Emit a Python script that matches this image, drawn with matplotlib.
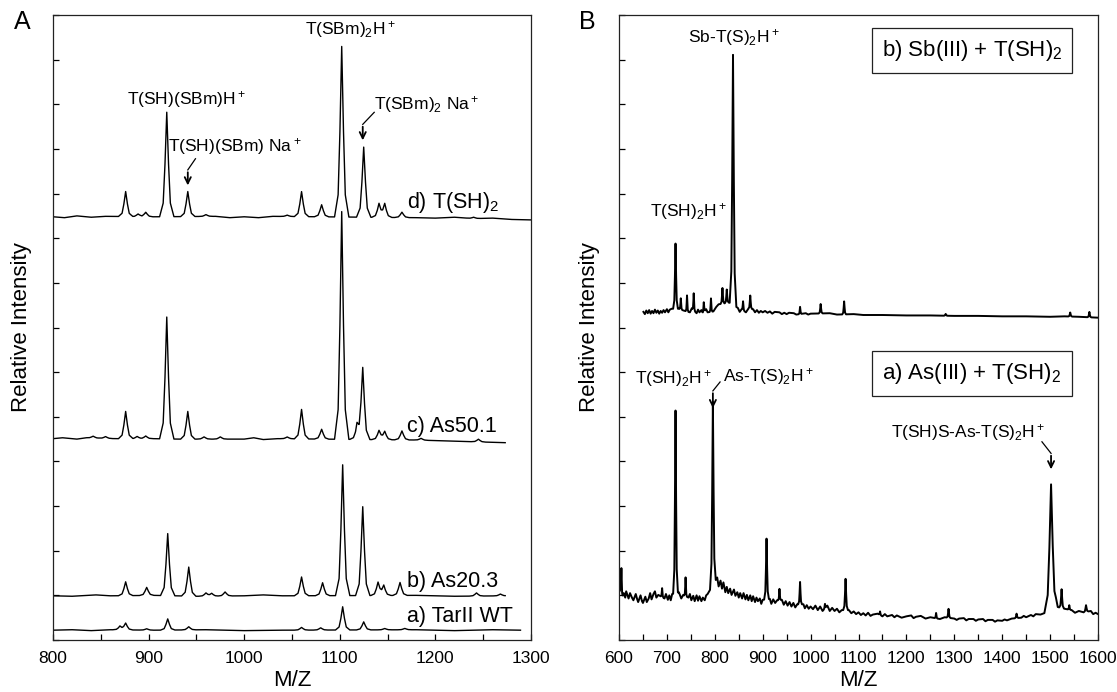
import numpy as np
import matplotlib
matplotlib.use("Agg")
from matplotlib import pyplot as plt
from matplotlib.ticker import MultipleLocator, NullFormatter

plt.rcParams['font.family'] = ['Liberation Sans', 'DejaVu Sans']
plt.rcParams['mathtext.default'] = 'regular'

# ---------------- panel A data (relative intensity above each trace baseline)
# peaks: m/z, height
peaks_a_wt = [(870, 0.08), (876, 0.15), (898, 0.03), (920, 0.25), (942, 0.07),
              (1060, 0.06), (1080, 0.05), (1103, 0.52), (1125, 0.18), (1147, 0.03), (1168, 0.03)]
peaks_b_as20 = [(876, 0.31), (898, 0.18), (920, 1.39), (942, 0.65), (960, 0.07), (966, 0.06),
                (980, 0.09), (1060, 0.42), (1082, 0.29), (1103, 2.93), (1124, 1.99), (1140, 0.29),
                (1146, 0.22), (1163, 0.29), (1243, 0.07), (1268, 0.04)]
peaks_c_as50 = [(842, 0.04), (855, 0.04), (876, 0.61), (888, 0.05), (897, 0.06), (919, 2.73),
                (941, 0.62), (958, 0.05), (975, 0.05), (1045, 0.04), (1060, 0.66), (1081, 0.22),
                (1102, 5.1), (1118, 0.3), (1124, 1.6), (1141, 0.2), (1147, 0.18), (1165, 0.2),
                (1185, 0.04), (1245, 0.06)]
peaks_d_tsh2 = [(876, 0.56), (889, 0.06), (897, 0.1), (919, 2.34), (941, 0.56), (960, 0.04),
                (1045, 0.03), (1060, 0.56), (1081, 0.27), (1102, 3.82), (1125, 1.57), (1141, 0.3),
                (1147, 0.3), (1165, 0.12), (1240, 0.03)]

# baseline knots (m/z, level)
base_a_wt = [(800, 0.0), (820, 0.01), (840, -0.01), (860, 0.01), (905, 0.0), (960, 0.01),
             (1000, -0.01), (1040, 0.0), (1180, 0.01), (1220, -0.01), (1260, 0.01), (1289, 0.0)]
base_b_as20 = [(800, 0.0), (820, -0.01), (845, 0.02), (860, 0.0), (905, 0.01), (950, -0.01),
               (1000, 0.0), (1020, 0.02), (1040, 0.0), (1180, 0.01), (1220, -0.01), (1273, 0.0)]
base_c_as50 = [(800, 0.0), (810, 0.02), (825, -0.01), (835, 0.02), (865, 0.0), (905, 0.0),
               (930, -0.01), (1000, -0.01), (1010, 0.02), (1020, -0.02), (1035, 0.0),
               (1180, -0.03), (1210, -0.05), (1273, -0.09)]
base_d_tsh2 = [(800, 0.0), (812, -0.02), (825, 0.02), (840, -0.01), (855, 0.01), (905, 0.0),
               (970, 0.01), (985, -0.02), (1000, 0.0), (1015, -0.02), (1030, 0.01), (1180, -0.02),
               (1200, -0.03), (1220, -0.01), (1240, -0.04), (1260, -0.03), (1280, -0.06), (1300, -0.07)]

labels_a = ["a) TarII WT", "b) As20.3", "c) As50.1", "d) T(SH)$_2$"]
offsets_a = [0.22, 0.99, 4.51, 9.48]
label_y_a = [0.52, 1.3, 4.78, 9.8]

# ---------------- panel B data
peaks_as3 = [(605, 0.56, 3), (690, 0.2, 3), (718, 4.09, 5), (739, 0.42, 3), (796, 4.1, 6),
             (908, 1.36, 5), (935, 0.25, 3), (978, 0.5, 4), (1030, 0.1, 3), (1073, 0.7, 5),
             (1145, 0.08, 3), (1262, 0.12, 3), (1288, 0.2, 4), (1430, 0.1, 4), (1502, 2.8, 14),
             (1524, 0.42, 5), (1540, 0.1, 3), (1575, 0.15, 5)]
base_as3 = [(600, 0.62), (603, 0.68), (607, 0.52), (610, 0.6), (613, 0.5), (615, 0.64), (620, 0.48),
            (623, 0.6), (627, 0.5), (630, 0.44), (635, 0.58), (638, 0.46), (640, 0.4), (645, 0.55),
            (648, 0.42), (650, 0.38), (655, 0.52), (658, 0.4), (662, 0.48), (665, 0.6), (668, 0.46),
            (672, 0.58), (675, 0.64), (678, 0.5), (682, 0.56), (695, 0.48), (698, 0.58), (702, 0.45),
            (705, 0.55), (708, 0.44), (711, 0.58), (725, 0.62), (730, 0.48), (734, 0.56), (745, 0.5),
            (748, 0.58), (751, 0.44), (755, 0.54), (758, 0.42), (762, 0.55), (765, 0.43), (768, 0.53),
            (772, 0.42), (775, 0.5), (779, 0.44), (782, 0.55), (785, 0.58), (805, 0.95), (808, 0.75),
            (812, 0.88), (815, 0.7), (818, 0.84), (822, 0.62), (825, 0.74), (828, 0.6), (832, 0.7),
            (835, 0.56), (840, 0.68), (843, 0.54), (847, 0.62), (850, 0.5), (853, 0.6), (857, 0.48),
            (860, 0.6), (864, 0.46), (867, 0.56), (870, 0.44), (874, 0.55), (877, 0.42), (880, 0.53),
            (884, 0.4), (887, 0.5), (890, 0.42), (894, 0.48), (897, 0.36), (900, 0.45), (915, 0.47),
            (918, 0.36), (922, 0.46), (926, 0.38), (930, 0.44), (940, 0.45), (944, 0.34), (948, 0.42),
            (952, 0.32), (956, 0.4), (960, 0.3), (964, 0.38), (968, 0.28), (972, 0.35), (985, 0.35),
            (988, 0.26), (992, 0.33), (996, 0.25), (1000, 0.3), (1005, 0.24), (1010, 0.32),
            (1015, 0.22), (1020, 0.3), (1025, 0.2), (1035, 0.32), (1040, 0.2), (1045, 0.27),
            (1050, 0.2), (1055, 0.25), (1060, 0.17), (1065, 0.22), (1080, 0.22), (1085, 0.15),
            (1090, 0.19), (1095, 0.13), (1100, 0.17), (1105, 0.11), (1110, 0.15), (1115, 0.1),
            (1120, 0.16), (1125, 0.09), (1130, 0.12), (1140, 0.14), (1150, 0.08), (1155, 0.13),
            (1160, 0.08), (1170, 0.11), (1175, 0.06), (1180, 0.1), (1190, 0.05), (1200, 0.08),
            (1210, 0.1), (1215, 0.04), (1220, 0.07), (1230, 0.09), (1240, 0.03), (1250, 0.06),
            (1270, 0.02), (1280, 0.06), (1300, 0.03), (1305, 0.0), (1310, 0.03), (1320, 0.04),
            (1325, -0.01), (1330, 0.02), (1340, 0.02), (1345, -0.02), (1350, 0.01), (1360, 0.02),
            (1365, -0.03), (1370, 0.0), (1380, 0.0), (1385, -0.04), (1390, -0.01), (1400, -0.02),
            (1405, 0.01), (1410, -0.01), (1420, 0.03), (1440, 0.05), (1445, 0.09), (1450, 0.06),
            (1460, 0.11), (1465, 0.08), (1470, 0.13), (1480, 0.12), (1490, 0.16), (1512, 0.3),
            (1530, 0.25), (1545, 0.22), (1552, 0.16), (1560, 0.2), (1570, 0.17), (1585, 0.2),
            (1590, 0.13), (1595, 0.16), (1600, 0.13)]

peaks_sb3 = [(718, 1.46, 5), (729, 0.25, 3), (742, 0.36, 3), (756, 0.38, 3), (777, 0.22, 3),
             (792, 0.3, 3), (816, 0.35, 4), (825, 0.3, 4), (838, 5.6, 7), (859, 0.2, 3),
             (874, 0.3, 4), (978, 0.16, 3), (1021, 0.21, 4), (1070, 0.29, 4), (1282, 0.04, 4),
             (1542, 0.09, 4), (1582, 0.12, 4)]
base_sb3 = [(651, 0.13), (654, 0.08), (657, 0.16), (660, 0.1), (663, 0.17), (666, 0.09), (669, 0.15),
            (672, 0.1), (675, 0.18), (678, 0.11), (681, 0.16), (684, 0.09), (687, 0.15), (690, 0.11),
            (693, 0.17), (696, 0.12), (700, 0.19), (703, 0.12), (706, 0.18), (710, 0.2), (725, 0.2),
            (735, 0.16), (748, 0.12), (752, 0.21), (762, 0.1), (765, 0.18), (768, 0.12), (772, 0.17),
            (775, 0.1), (782, 0.19), (785, 0.12), (797, 0.14), (803, 0.24), (808, 0.3), (830, 0.34),
            (848, 0.22), (852, 0.13), (856, 0.19), (865, 0.12), (870, 0.2), (880, 0.19), (884, 0.12),
            (888, 0.17), (892, 0.11), (896, 0.15), (900, 0.12), (905, 0.15), (910, 0.11), (915, 0.14),
            (920, 0.09), (925, 0.13), (935, 0.12), (940, 0.08), (945, 0.11), (950, 0.08), (955, 0.11),
            (965, 0.1), (970, 0.07), (990, 0.1), (995, 0.07), (1000, 0.09), (1040, 0.1), (1055, 0.07),
            (1090, 0.08), (1110, 0.06), (1150, 0.06), (1200, 0.05), (1250, 0.05), (1300, 0.04),
            (1350, 0.04), (1400, 0.03), (1450, 0.03), (1500, 0.02), (1530, 0.03), (1560, 0.02),
            (1600, 0.0)]

offsets_b = [0.45, 7.22]

# peak outline used for every peak (fraction of half width / fraction of height)
PROF_X = np.array([-1, -0.5, -0.25, 0, 0.25, 0.5, 1])
PROF_Y = np.array([0, 0.13, 0.5, 1, 0.5, 0.13, 0])


def trace(base, peaks, width=7.5):
    bx = np.array([b[0] for b in base], float)
    by = np.array([b[1] for b in base], float)
    pts = list(bx)
    pk = []
    for p in peaks:
        c, h = p[0], p[1]
        w = p[2] if len(p) > 2 else width
        pk.append((c, h, w))
        pts.extend(c + PROF_X * w)
    x = np.unique(np.array(pts))
    x = x[(x >= bx[0]) & (x <= bx[-1])]
    y = np.interp(x, bx, by)
    for c, h, w in pk:
        y = y + np.interp(x, c + PROF_X * w, h * PROF_Y, left=0, right=0)
    return x, y


fig = plt.figure(figsize=(11.17, 6.92), dpi=100)
axA = fig.add_axes([53 / 1117, 52 / 692, 478 / 1117, 625 / 692])
axB = fig.add_axes([619 / 1117, 52 / 692, 479 / 1117, 625 / 692])

for ax in (axA, axB):
    ax.set_ylim(0, 14)
    ax.yaxis.set_major_locator(MultipleLocator(1))
    ax.yaxis.set_major_formatter(NullFormatter())
    ax.xaxis.set_major_locator(MultipleLocator(100))
    ax.xaxis.set_minor_locator(MultipleLocator(50))
    ax.tick_params(axis='both', which='both', direction='in', length=4, width=0.9,
                   top=False, right=False, labelsize=12.5, pad=8)
    for s in ax.spines.values():
        s.set_linewidth(0.9)
        s.set_color('#222222')
    ax.set_xlabel("M/Z", fontsize=16, labelpad=3)
    ax.set_ylabel("Relative Intensity", fontsize=16)

# ---------- panel A
axA.set_xlim(800, 1300)
sets_a = [(base_a_wt, peaks_a_wt), (base_b_as20, peaks_b_as20),
          (base_c_as50, peaks_c_as50), (base_d_tsh2, peaks_d_tsh2)]
for (bs, pks), off, lab, ly in zip(sets_a, offsets_a, labels_a, label_y_a):
    x, y = trace(bs, pks)
    axA.plot(x, y + off, color='black', lw=1.0)
    axA.text(1170, ly, lab, fontsize=15.5, ha='left', va='center')

axA.yaxis.set_label_coords(-0.043, 0.5)
txt = 12.5
axA.text(940, 12.1, "T(SH)(SBm)H$^+$", fontsize=txt, ha='center', va='center')
axA.text(990, 11.05, "T(SH)(SBm) Na$^+$", fontsize=txt, ha='center', va='center')
axA.text(1111, 13.68, "T(SBm)$_2$H$^+$", fontsize=txt, ha='center', va='center')
axA.text(1191, 12.0, "T(SBm)$_2$ Na$^+$", fontsize=txt, ha='center', va='center')

arw = dict(arrowstyle='->,head_length=0.45,head_width=0.22', color='black', lw=1.3)
axA.plot([949, 941], [10.78, 10.53], color='black', lw=0.9)
axA.annotate("", xy=(941, 10.12), xytext=(941, 10.54), arrowprops=arw)
axA.plot([1136, 1124], [11.82, 11.55], color='black', lw=0.9)
axA.annotate("", xy=(1124, 11.13), xytext=(1124, 11.56), arrowprops=arw)

fig.text(22 / 1117, 1 - 22 / 692, "A", fontsize=18, ha='center', va='center')

# ---------- panel B
axB.set_xlim(600, 1600)
for (bs, pks), off in zip([(base_as3, peaks_as3), (base_sb3, peaks_sb3)], offsets_b):
    x, y = trace(bs, pks)
    axB.plot(x, y + off, color='black', lw=1.4)

axB.yaxis.set_label_coords(-0.04, 0.5)
box = dict(boxstyle='square,pad=0.45', fc='white', ec='#222222', lw=0.9)
axB.text(1337, 13.2, "b) Sb(III) + T(SH)$_2$", fontsize=16, ha='center', va='center', bbox=box)
axB.text(1337, 5.97, "a) As(III) + T(SH)$_2$", fontsize=16, ha='center', va='center', bbox=box)
axB.text(840, 13.5, "Sb-T(S)$_2$H$^+$", fontsize=txt, ha='center', va='center')
axB.text(745, 9.6, "T(SH)$_2$H$^+$", fontsize=txt, ha='center', va='center')
axB.text(714, 5.85, "T(SH)$_2$H$^+$", fontsize=txt, ha='center', va='center')
axB.text(912, 5.9, "As-T(S)$_2$H$^+$", fontsize=txt, ha='center', va='center')
axB.text(1329, 4.64, "T(SH)S-As-T(S)$_2$H$^+$", fontsize=txt, ha='center', va='center')

axB.plot([811, 796], [5.78, 5.58], color='black', lw=0.9)
axB.annotate("", xy=(796, 5.13), xytext=(796, 5.59), arrowprops=arw)
axB.plot([1483, 1502], [4.44, 4.18], color='black', lw=0.9)
axB.annotate("", xy=(1502, 3.76), xytext=(1502, 4.19), arrowprops=arw)

fig.text(587 / 1117, 1 - 22 / 692, "B", fontsize=18, ha='center', va='center')

fig.savefig("out.png", dpi=100)
